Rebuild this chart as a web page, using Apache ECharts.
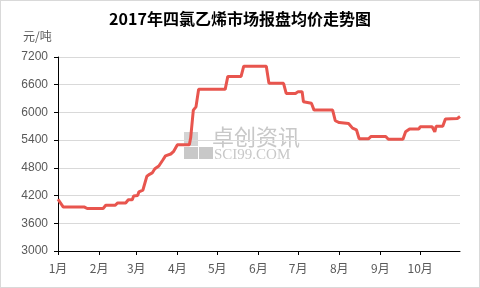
<!DOCTYPE html>
<html>
<head>
<meta charset="utf-8">
<script src="https://cdn.jsdelivr.net/npm/echarts@6/dist/echarts.min.js"></script>
<style>
html,body{margin:0;padding:0;background:#fff;}
#chart{width:478px;height:286px;border:1px solid #d9d9d9;}
</style>
</head>
<body>
<div id="chart"></div>
<script>
var titleText = '2017年四氯乙烯市场报盘均价走势图';
var unitText = '元/吨';
var dates = ['2017-01-01','2017-01-02','2017-01-05','2017-01-21','2017-01-23','2017-02-04','2017-02-06','2017-02-13','2017-02-15','2017-02-21','2017-02-23','2017-02-26','2017-02-27','2017-03-02','2017-03-03','2017-03-06','2017-03-09','2017-03-11','2017-03-13','2017-03-15','2017-03-18','2017-03-21','2017-03-23','2017-03-27','2017-03-29','2017-04-01','2017-04-10','2017-04-11','2017-04-13','2017-04-15','2017-04-17','2017-05-07','2017-05-09','2017-05-19','2017-05-21','2017-06-07','2017-06-09','2017-06-20','2017-06-22','2017-06-29','2017-07-01','2017-07-04','2017-07-05','2017-07-11','2017-07-13','2017-07-27','2017-07-29','2017-08-01','2017-08-08','2017-08-11','2017-08-14','2017-08-16','2017-08-23','2017-08-25','2017-09-05','2017-09-07','2017-09-18','2017-09-20','2017-09-23','2017-09-30','2017-10-01','2017-10-10','2017-10-12','2017-10-13','2017-10-18','2017-10-20','2017-10-29','2017-10-31'];
var prices = [4120,4080,3950,3950,3920,3920,3990,3990,4040,4040,4110,4110,4190,4200,4280,4320,4620,4660,4690,4780,4840,4970,5060,5100,5150,5300,5300,5450,6050,6120,6500,6500,6780,6780,7000,7000,6630,6630,6410,6410,6450,6450,6230,6200,6050,6050,5820,5780,5760,5660,5620,5430,5430,5480,5480,5420,5420,5580,5640,5640,5690,5690,5580,5700,5700,5860,5870,5910];
var yMin = 3000, yMax = 7200, yStep = 600;
var xMin = '2017-01-01', xMax = '2017-10-31';
var watermarkCN = '卓创资讯';
var watermarkEN = 'SCI99.COM';

var seriesData = dates.map(function(d, i){ return [d, prices[i]]; });
var chart = echarts.init(document.getElementById('chart'), null, {renderer:'canvas'});
var DAY = 86400000;
chart.setOption({
  animation: false,
  backgroundColor: '#fff',
  title: {
    text: titleText, left: 'center', top: 5,
    textStyle: {fontSize: 16, fontWeight: 'bold', color: '#000', fontFamily: 'Noto Sans CJK SC'}
  },
  graphic: [
    {type:'text', left: 22, top: 29, style:{text: unitText, fontSize: 12, fill:'#595959', fontFamily:'Noto Sans CJK SC'}},
    {type:'rect', left: 183, top: 131, shape:{width:14,height:14}, style:{fill:'#d4d4d4'}, z: 0},
    {type:'rect', left: 183, top: 146, shape:{width:14,height:12}, style:{fill:'#c8c8c8'}, z: 0},
    {type:'rect', left: 198, top: 146, shape:{width:14,height:12}, style:{fill:'#c8c8c8'}, z: 0},
    {type:'text', left: 211, top: 125, style:{text: watermarkCN, fontSize: 22, fill:'#c8c8c8', fontFamily:'Noto Sans CJK SC'}, z: 0},
    {type:'text', left: 213, top: 147, style:{text: watermarkEN, fontSize: 15, fill:'#c8c8c8', fontFamily:'Liberation Serif'}, z: 0}
  ],
  grid: {left: 57, right: 19, top: 56, bottom: 36},
  xAxis: {
    type: 'time',
    min: xMin, max: xMax,
    minInterval: 28 * DAY, maxInterval: 31 * DAY,
    axisLine: {show: true, lineStyle: {color: '#000', width: 1}},
    axisTick: {show: true, length: 4, lineStyle: {color: '#000'}},
    splitLine: {show: false},
    axisLabel: {
      color: '#595959', fontSize: 12, margin: 11, fontFamily: 'Noto Sans CJK SC',
      formatter: function(v){ return (new Date(v).getMonth() + 1) + '月'; }
    }
  },
  yAxis: {
    type: 'value', min: yMin, max: yMax, interval: yStep,
    axisLine: {show: true, lineStyle: {color: '#000', width: 1}},
    axisTick: {show: true, length: 4, lineStyle: {color: '#000'}},
    splitLine: {show: true, lineStyle: {color: '#d9d9d9', width: 1}},
    axisLabel: {color: '#595959', fontSize: 12, margin: 10, fontFamily: 'Liberation Sans',
      formatter: function(v){ return String(v); }}
  },
  series: [{
    type: 'line', data: seriesData, showSymbol: false, z: 5,
    lineStyle: {color: '#e8554e', width: 3},
    itemStyle: {color: '#e8554e'}
  }]
});
</script>
</body>
</html>
